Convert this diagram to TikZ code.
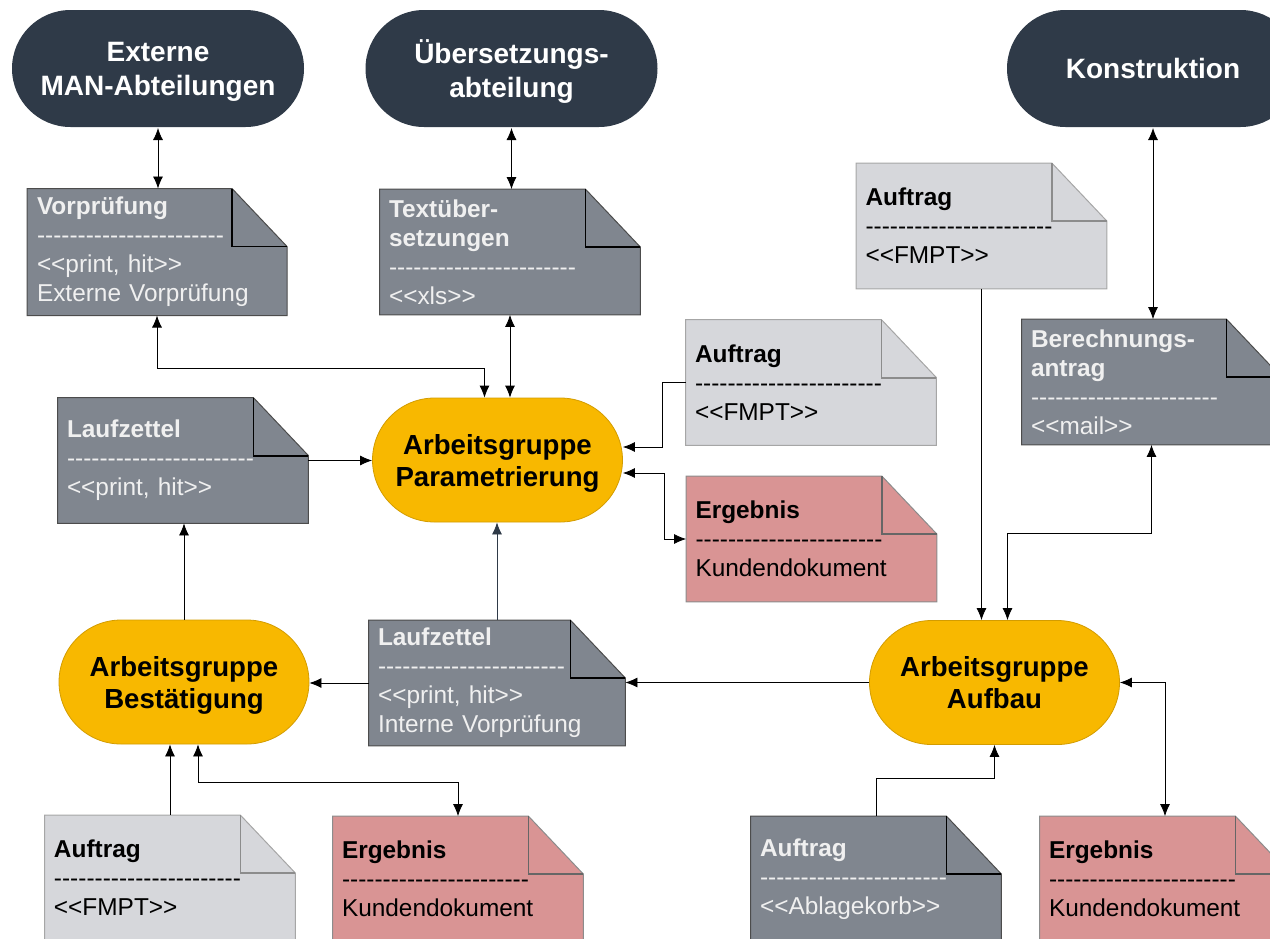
\documentclass[tikz,border=0pt]{standalone}
\usepackage{fontspec}
\setmainfont{Liberation Sans}
\usetikzlibrary{calc,backgrounds,shapes.misc,arrows.meta}

\definecolor{navy}{RGB}{47,58,72}
\definecolor{ochre}{RGB}{248,184,0}
\definecolor{slate}{RGB}{128,134,143}
\definecolor{paper}{RGB}{214,215,219}
\definecolor{rose}{RGB}{217,148,148}

\def\dashrow{\foreach \k in {1,...,23}{\mbox{-}}}
\def\stereo#1{\mbox{<}\mbox{<}#1\mbox{>}\mbox{>}}
\def\sheet#1#2#3{%
	\begin{pgfonlayer}{background}
		\draw[#2] (#1.north west) -- ($(#1.north east)+(-55,0)$) -- ($(#1.north east)+(0,58)$) -- (#1.south east) -- (#1.south west) -- cycle;
		\draw[#3] ($(#1.north east)+(-55,0)$) |- ($(#1.north east)+(0,58)$);
	\end{pgfonlayer}}

\tikzset{
	dept/.style={rounded rectangle, fill=navy, text=white, minimum width=146pt, minimum height=58.5pt, inner sep=0pt, text depth=0pt, align=center, font=\fontsize{14}{17}\selectfont\bfseries},
	team/.style={rounded rectangle, fill=ochre, draw=ochre!85!black, line width=0.4pt, minimum width=125pt, minimum height=62pt, inner sep=0pt, text depth=0pt, align=center, font=\fontsize{13.8}{16}\selectfont\bfseries},
	doc/.style={rectangle, inner xsep=4.5pt, inner ysep=2pt, minimum height=62.5pt, text width=116pt, align=left, font=\fontsize{12.2}{14.5}\selectfont},
	docdark/.style={doc, text=white!94!black},
	doclight/.style={doc, text=black},
	sheetdark/.style={fill=slate, draw=black!70, line width=0.5pt},
	sheetlight/.style={fill=paper, draw=black!35, line width=0.5pt},
	sheetrose/.style={fill=rose, draw=black!45, line width=0.5pt},
	folddark/.style={draw=black, line width=0.9pt},
	foldlight/.style={draw=black!45, line width=0.9pt},
	foldrose/.style={draw=black!60, line width=0.9pt},
}

\begin{document}
\begin{tikzpicture}[x=0.5pt, y=-0.5pt, line width=1pt, >={Latex[length=6pt,width=5pt]}]
		%%%%% START %%%%%
		\useasboundingbox (0,0) rectangle (1270,938);
		\clip (0,0) rectangle (1270,938);
		
		\node[dept] (ext) at (158,68.5) {Externe\\MAN-Abteilungen};
		\node[dept] (ueb) at (511.5,68.5) {Übersetzungs-\\abteilung};
		\node[dept] (kon) at (1153,68.5) {Konstruktion};
		
		\node[docdark, text width=120pt] (vor) at (157,252) {\textbf{Vorprüfung}\\\dashrow\\\stereo{print, hit}\\Externe Vorprüfung};
		\sheet{vor}{sheetdark}{folddark}
		\node[docdark, text width=121pt] (txt) at (510,252) {\textbf{Textüber-}\\\textbf{setzungen}\\\dashrow\\\stereo{xls}};
		\sheet{txt}{sheetdark}{folddark}
		\node[doclight] (auftr) at (981.5,226) {\textbf{Auftrag}\\\dashrow\\\stereo{FMPT}};
		\sheet{auftr}{sheetlight}{foldlight}
		\node[docdark, text width=120.5pt] (ber) at (1151.5,382) {\textbf{Berechnungs-}\\\textbf{antrag}\\\dashrow\\\stereo{mail}};
		\sheet{ber}{sheetdark}{folddark}
		
		\node[team] (param) at (497.5,460) {Arbeitsgruppe\\Parametrierung};
		\node[docdark] (laufl) at (183,460.5) {\textbf{Laufzettel}\\\dashrow\\\stereo{print, hit}};
		\sheet{laufl}{sheetdark}{folddark}
		\node[doclight] (aufm) at (811,382.5) {\textbf{Auftrag}\\\dashrow\\\stereo{FMPT}};
		\sheet{aufm}{sheetlight}{foldlight}
		\node[doclight] (ergm) at (811.5,539) {\textbf{Ergebnis}\\\dashrow\\Kundendokument};
		\sheet{ergm}{sheetrose}{foldrose}
		
		\node[team] (best) at (184,682) {Arbeitsgruppe\\Bestätigung};
		\node[docdark, text width=119pt] (laufm) at (497,683) {\textbf{Laufzettel}\\\dashrow\\\stereo{print, hit}\\Interne Vorprüfung};
		\sheet{laufm}{sheetdark}{folddark}
		\node[team] (aufbau) at (994.5,682.5) {Arbeitsgruppe\\Aufbau};
		
		\node[doclight] (aufbl) at (170,878) {\textbf{Auftrag}\\\dashrow\\\stereo{FMPT}};
		\sheet{aufbl}{sheetlight}{foldlight}
		\node[doclight] (ergbm) at (458,879) {\textbf{Ergebnis}\\\dashrow\\Kundendokument};
		\sheet{ergbm}{sheetrose}{foldrose}
		\node[docdark] (aufbr) at (876,879) {\textbf{Auftrag}\\\dashrow\\\stereo{Ablagekorb}};
		\sheet{aufbr}{sheetdark}{folddark}
		\node[doclight] (ergbr) at (1165,879) {\textbf{Ergebnis}\\\dashrow\\Kundendokument};
		\sheet{ergbr}{sheetrose}{foldrose}
		
		% connectors
		\draw[<->] (ext.south) -- (ext.south |- vor.north);
		\draw[<->] (ueb.south) -- (ueb.south |- txt.north);
		\draw[<->] (kon.south) -- (kon.south |- ber.north);
		\draw[<->] (vor.south) -- ++(0,53) -| ($(param.north)+(-13,0)$);
		\draw[<->] (txt.south) -- (txt.south |- param.north);
		\draw[->] (laufl.east) -- (laufl.east -| param.west);
		\draw[->] (aufm.west) -- ++(-23,0) |- ($(param.east)+(0,-13)$);
		\draw[<->] ($(param.east)+(0,13)$) -- ++(41,0) |- (ergm.west);
		\draw[->, navy] (laufm.north) -- (laufm.north |- param.south);
		\draw[->] (best.north) -- (best.north |- laufl.south);
		\draw[->] (laufm.west) -- (laufm.west -| best.east);
		\draw[->] (aufbau.west) -- (aufbau.west -| laufm.east);
		\draw[->] (aufbl.north) -- (aufbl.north |- best.south);
		\draw[<->] ($(best.south)+(14,0)$) -- ++(0,38) -| (ergbm.north);
		\draw[->] (aufbr.north) -- ++(0,-38) -| (aufbau.south);
		\draw[<->] (aufbau.east) -| (ergbr.north);
		\draw[->] (auftr.south) -- (auftr.south |- aufbau.north);
		\draw[<->] (ber.south) -- ++(0,88) -| ($(aufbau.north)+(13,0)$);
		
		%%%%% END %%%%%
\end{tikzpicture}
\end{document}
